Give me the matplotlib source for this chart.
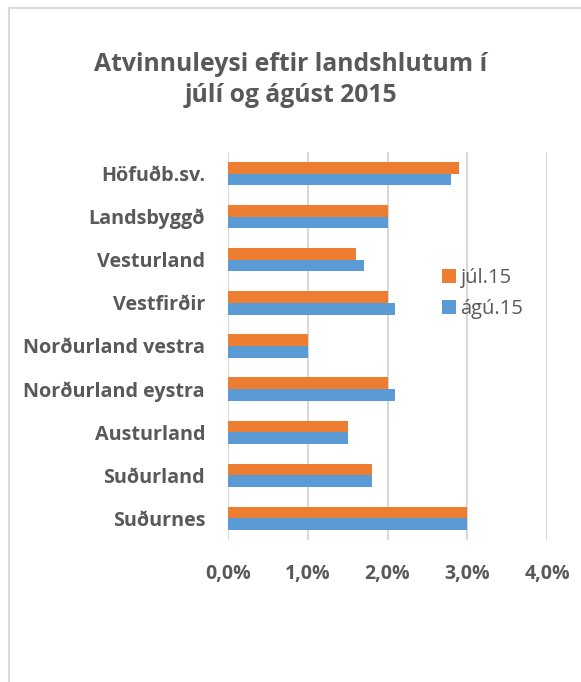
import matplotlib.pyplot as plt
from matplotlib.lines import Line2D
from matplotlib.ticker import FuncFormatter

regions = ['Höfuðb.sv.', 'Landsbyggð', 'Vesturland', 'Vestfirðir', 'Norðurland vestra',
           'Norðurland eystra', 'Austurland', 'Suðurland', 'Suðurnes']
jul15 = [2.9, 2.0, 1.6, 2.0, 1.0, 2.0, 1.5, 1.8, 3.0]
agu15 = [2.8, 2.0, 1.7, 2.1, 1.0, 2.1, 1.5, 1.8, 3.0]
series_names = ['júl.15', 'ágú.15']

text_color = '#595959'
grid_color = '#d9d9d9'
font = ['Open Sans', 'DejaVu Sans']

fig = plt.figure(figsize=(5.81, 6.82), dpi=100)
ax = fig.add_axes([228 / 581, 1 - 540 / 682, 319 / 581, 388 / 682])

y = list(range(len(regions)))
h = 0.27
ax.barh([i - h / 2 for i in y], jul15, height=h, color='#ed7d31', label=series_names[0], zorder=3)
ax.barh([i + h / 2 for i in y], agu15, height=h, color='#5b9bd5', label=series_names[1], zorder=3)

ax.set_xlim(0, 4)
ax.set_ylim(len(regions) - 0.5, -0.5)
ax.set_xticks([0, 1, 2, 3, 4])
ax.xaxis.set_major_formatter(FuncFormatter(lambda v, p: f'{v:.1f}%'.replace('.', ',')))
ax.set_yticks(y)
ax.set_yticklabels(regions)
ax.grid(axis='x', color=grid_color, linewidth=1.5, zorder=0)
for s in ax.spines.values():
    s.set_visible(False)
ax.tick_params(axis='both', length=0, labelcolor=text_color)
ax.tick_params(axis='y', pad=16.5)
ax.tick_params(axis='x', pad=17)
for lab in ax.get_yticklabels():
    lab.set_fontfamily(font)
    lab.set_fontweight('bold')
    lab.set_fontsize(14.2)
for lab in ax.get_xticklabels():
    lab.set_fontfamily(font)
    lab.set_fontweight('bold')
    lab.set_fontsize(14)

leg = ax.legend(loc='upper left', bbox_to_anchor=(0.645, 0.722), frameon=False,
                prop={'family': font, 'size': 14.5}, handlelength=0.7, handleheight=0.7,
                handletextpad=0.2, labelspacing=0.55, borderaxespad=0)
for t in leg.get_texts():
    t.set_color(text_color)

fig.text(0.5, 1 - 80 / 682, 'Atvinnuleysi eftir landshlutum í\njúlí og ágúst 2015',
         ha='center', va='center', fontsize=17.8, fontweight='bold', color=text_color,
         family=font, linespacing=1.3)

fig.add_artist(Line2D([9 / 581, 9 / 581], [0, 1 - 8 / 682], color=grid_color, linewidth=1.5))
fig.add_artist(Line2D([9 / 581, 1], [1 - 8 / 682, 1 - 8 / 682], color=grid_color, linewidth=1.5))

fig.savefig('out.png', dpi=100)
